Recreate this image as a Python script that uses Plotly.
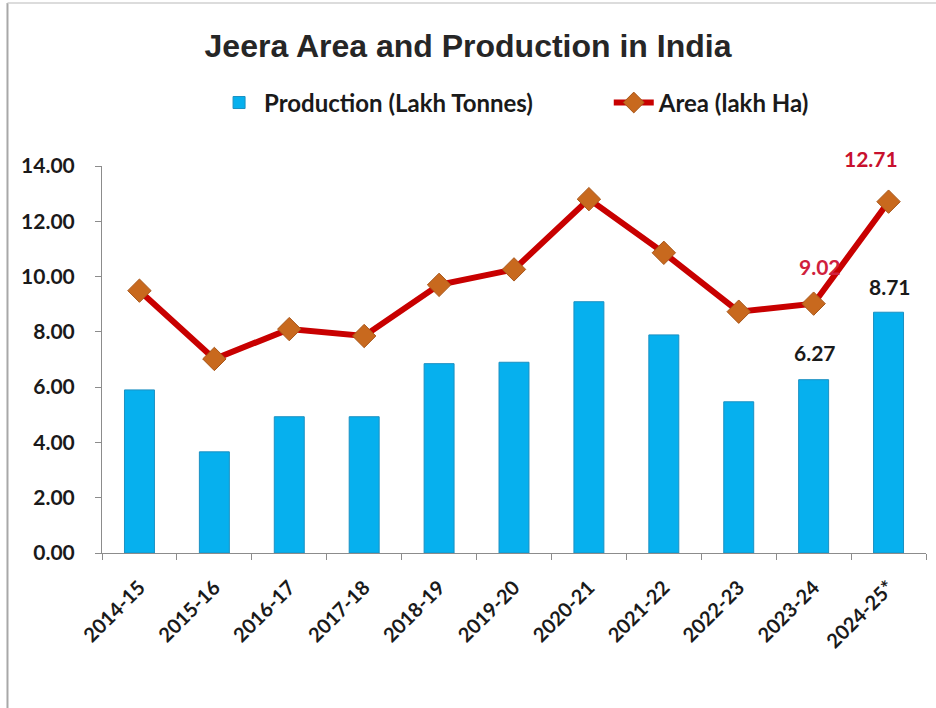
import plotly.graph_objects as go

years = ["2014-15", "2015-16", "2016-17", "2017-18", "2018-19", "2019-20",
         "2020-21", "2021-22", "2022-23", "2023-24", "2024-25*"]
production = [5.90, 3.66, 4.93, 4.93, 6.85, 6.90, 9.09, 7.89, 5.47, 6.27, 8.71]
area = [9.49, 7.02, 8.10, 7.85, 9.70, 10.26, 12.80, 10.86, 8.73, 9.02, 12.71]
y_ticks = [0, 2, 4, 6, 8, 10, 12, 14]

LBL_FONT = "Lato, 'Open Sans', sans-serif"
LEG_FONT = dict(family=LBL_FONT, size=24, color="#1a1a1a", weight="bold")

fig = go.Figure()
fig.add_trace(go.Bar(
    x=years, y=production, name="Production (Lakh Tonnes)", legend="legend",
    marker=dict(color="#06B0EE", line=dict(color="#1B90C2", width=1)),
))
fig.add_trace(go.Scatter(
    x=years, y=area, name="Area (lakh Ha)", mode="lines+markers", legend="legend2",
    line=dict(color="#C80000", width=6),
    marker=dict(symbol="diamond", size=18, color="#C8691E",
                line=dict(color="#A8561A", width=1)),
))

# data labels for Production (last two bars)
for i, ys in ((-2, 27), (-1, 26)):
    fig.add_annotation(x=years[i], y=production[i], text=f"{production[i]:.2f}",
                       showarrow=False, xshift=1, yshift=ys,
                       font=dict(family=LBL_FONT, size=21, color="#1a1a1a", weight="bold"))

# data labels for Area (last two points)
fig.add_annotation(x=years[-2], y=area[-2], text=f"{area[-2]:.2f}",
                   showarrow=False, xshift=6, yshift=37,
                   font=dict(family=LBL_FONT, size=21, color="#D0203C", weight="bold"))
fig.add_annotation(x=years[-1], y=area[-1], text=f"{area[-1]:.2f}",
                   showarrow=False, xshift=-18, yshift=43,
                   font=dict(family=LBL_FONT, size=21, color="#C8102E", weight="bold"))

# frame lines (image border)
fig.add_shape(type="line", xref="paper", yref="paper",
              x0=-0.1147, x1=-0.1147, y0=1.421, y1=-0.41,
              line=dict(color="#A8A8A8", width=2))
fig.add_shape(type="line", xref="paper", yref="paper",
              x0=-0.1147, x1=1.02, y0=1.421, y1=1.421,
              line=dict(color="#D0D0D0", width=1.5))

fig.update_layout(
    width=936, height=708,
    margin=dict(l=102, r=10, t=166, b=155),
    paper_bgcolor="white", plot_bgcolor="white",
    title=dict(text="<b>Jeera Area and Production in India</b>",
               x=0.5, xanchor="center", y=0.936, yanchor="middle",
               font=dict(family="Liberation Sans, Arial, sans-serif", size=32, color="#262626")),
    showlegend=True,
    bargap=0.6,
    legend=dict(orientation="h", x=0.136, xanchor="left", y=1.163, yanchor="middle",
                font=LEG_FONT, itemwidth=40, bgcolor="rgba(0,0,0,0)"),
    legend2=dict(orientation="h", x=0.615, xanchor="left", y=1.163, yanchor="middle",
                 font=LEG_FONT, itemwidth=40, bgcolor="rgba(0,0,0,0)"),
    xaxis=dict(type="category", range=[-0.5, 10.5], showline=True, linecolor="#8C8C8C", linewidth=1,
               ticks="outside", tickson="boundaries", ticklen=6, tickcolor="#8C8C8C",
               tickangle=-45, showgrid=False, ticklabelstandoff=14,
               tickfont=dict(family=LBL_FONT, size=20, color="#1a1a1a", weight="bold")),
    yaxis=dict(range=[0, 14], tickvals=y_ticks, tickformat=".2f",
               showline=True, linecolor="#8C8C8C", linewidth=1,
               ticks="outside", ticklen=6, tickcolor="#8C8C8C",
               showgrid=False, zeroline=False, ticklabelstandoff=16,
               tickfont=dict(family=LBL_FONT, size=21, color="#1a1a1a", weight="bold")),
)

fig.write_html("out.html")
